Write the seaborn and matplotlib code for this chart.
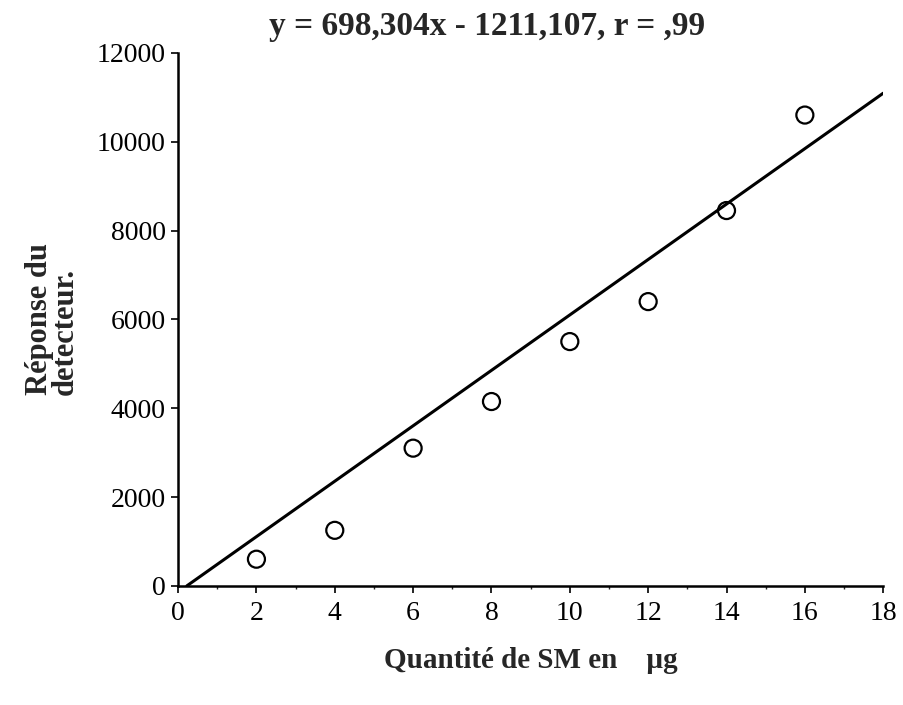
import matplotlib
matplotlib.use("Agg")
import matplotlib.pyplot as plt
import numpy as np
import pandas as pd
import seaborn as sns
from matplotlib.ticker import MultipleLocator

# Data
quantite = [2, 4, 6, 8, 10, 12, 14, 16]
reponse = [600, 1250, 3100, 4150, 5500, 6400, 8450, 10600]

# Fitted line as drawn in the picture
line_slope = 624.0
line_intercept = -140.0
line_x_end = 18

titre = "y = 698,304x - 1211,107, r = ,99"
x_label = "Quantité de SM en    µg"
y_label = "Réponse du\ndetecteur."

sns.set_theme(style="ticks")
plt.rcParams['font.family'] = ['Liberation Serif', 'DejaVu Serif']

df = pd.DataFrame({"x": quantite, "y": reponse})
x0 = -line_intercept / line_slope
line_df = pd.DataFrame({"x": [x0, line_x_end]})
line_df["y"] = line_slope * line_df["x"] + line_intercept

fig = plt.figure(figsize=(9.04, 7.05), dpi=100)
ax = fig.add_axes([0.197, 0.169, 0.78, 0.756])

sns.lineplot(data=line_df, x="x", y="y", color="black", linewidth=2.2, ax=ax)
sns.scatterplot(data=df, x="x", y="y", marker="o", s=150, facecolor="none",
                edgecolor="black", linewidth=1.6, ax=ax, zorder=3)

ax.set_xlim(0, 18)
ax.set_ylim(0, 12000)
ax.xaxis.set_major_locator(MultipleLocator(2))
ax.xaxis.set_minor_locator(MultipleLocator(1))
ax.yaxis.set_major_locator(MultipleLocator(2000))

for s in ["top", "right"]:
    ax.spines[s].set_visible(False)
for s in ["left", "bottom"]:
    ax.spines[s].set_linewidth(1.8)
    ax.spines[s].set_color("black")

ax.tick_params(axis="both", which="major", labelsize=20, length=5, width=1.2,
               direction="out", colors="black")
ax.tick_params(axis="x", which="minor", length=2, width=1)
ax.tick_params(axis="x", pad=6)
ax.tick_params(axis="y", pad=4)

ax.set_xlabel(x_label, fontsize=21, fontweight="bold", labelpad=15)
ax.set_ylabel(y_label, fontsize=22, fontweight="bold", labelpad=12,
              linespacing=0.85, multialignment="left")
ax.set_title(titre, fontsize=24, fontweight="bold", pad=13, x=0.438)

fig.savefig("out.png", dpi=100)
